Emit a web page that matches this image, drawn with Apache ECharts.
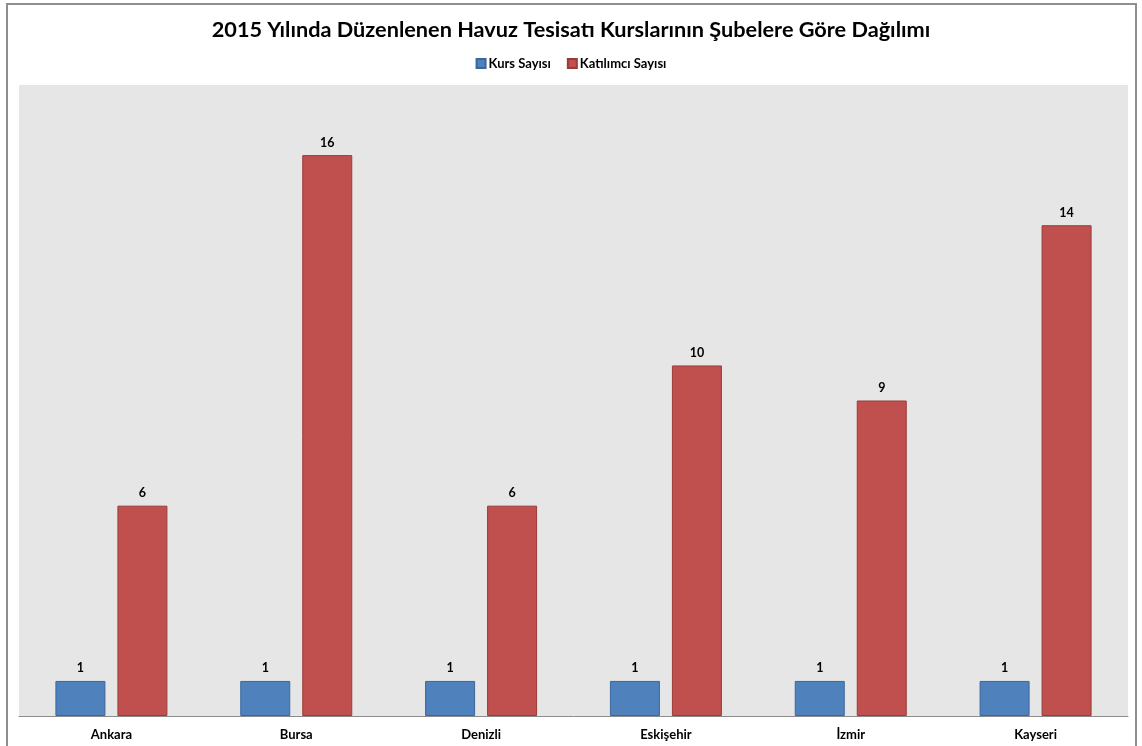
<!DOCTYPE html>
<html><head><meta charset="utf-8">
<script src="https://cdn.jsdelivr.net/npm/echarts@6/dist/echarts.min.js"></script>
<style>
html,body{margin:0;padding:0;background:#fff;}
#frame{position:absolute;left:6px;top:3px;width:1131px;height:760px;border:2px solid #8e8e8e;border-bottom:none;box-sizing:border-box;}
#c{position:absolute;left:0;top:0;width:1142px;height:746px;}
</style></head><body>
<div id="frame"></div>
<div id="c"></div>
<script>
const titleText = '2015 Yılında Düzenlenen Havuz Tesisatı Kurslarının Şubelere Göre Dağılımı';
const categories = ['Ankara', 'Bursa', 'Denizli', 'Eskişehir', 'İzmir', 'Kayseri'];
const seriesNames = ['Kurs Sayısı', 'Katılımcı Sayısı'];
const kursSayisi = [1, 1, 1, 1, 1, 1];
const katilimciSayisi = [6, 16, 6, 10, 9, 14];

const FONT = 'Lato';
const chart = echarts.init(document.getElementById('c'), null, {renderer: 'canvas'});
const labelCfg = {show: true, position: 'top', distance: 6, fontFamily: FONT, fontWeight: 'bold', fontSize: 12.5, color: '#000'};
chart.setOption({
  backgroundColor: 'transparent',
  animation: false,
  title: {
    text: titleText, left: 'center', top: 14,
    textStyle: {fontFamily: FONT, fontWeight: 'bold', fontSize: 21.7, color: '#000'}
  },
  legend: {
    data: seriesNames, top: 52, left: 'center',
    icon: 'rect', itemWidth: 9, itemHeight: 9, itemGap: 16,
    textStyle: {fontFamily: FONT, fontWeight: 'bold', fontSize: 13, color: '#000', padding: [0,0,0,-2]}
  },
  grid: {left: 19, right: 14, top: 85, bottom: 30, show: true, backgroundColor: '#e6e6e6', borderWidth: 0},
  xAxis: {
    type: 'category', data: categories,
    axisLine: {show: true, lineStyle: {color: '#8c8c8c', width: 1}},
    axisTick: {show: false},
    axisLabel: {fontFamily: FONT, fontWeight: 'bold', fontSize: 13, color: '#000', margin: 12}
  },
  yAxis: {type: 'value', min: 0, max: 18, show: false, splitLine: {show: false}},
  series: [
    {name: seriesNames[0], type: 'bar', data: kursSayisi, barWidth: 50, barGap: '24%',
     itemStyle: {color: '#4f81bd', borderColor: '#3a679c', borderWidth: 1}, label: labelCfg},
    {name: seriesNames[1], type: 'bar', data: katilimciSayisi, barWidth: 50,
     itemStyle: {color: '#c0504d', borderColor: '#9b3b38', borderWidth: 1}, label: labelCfg}
  ]
});
</script></body></html>
